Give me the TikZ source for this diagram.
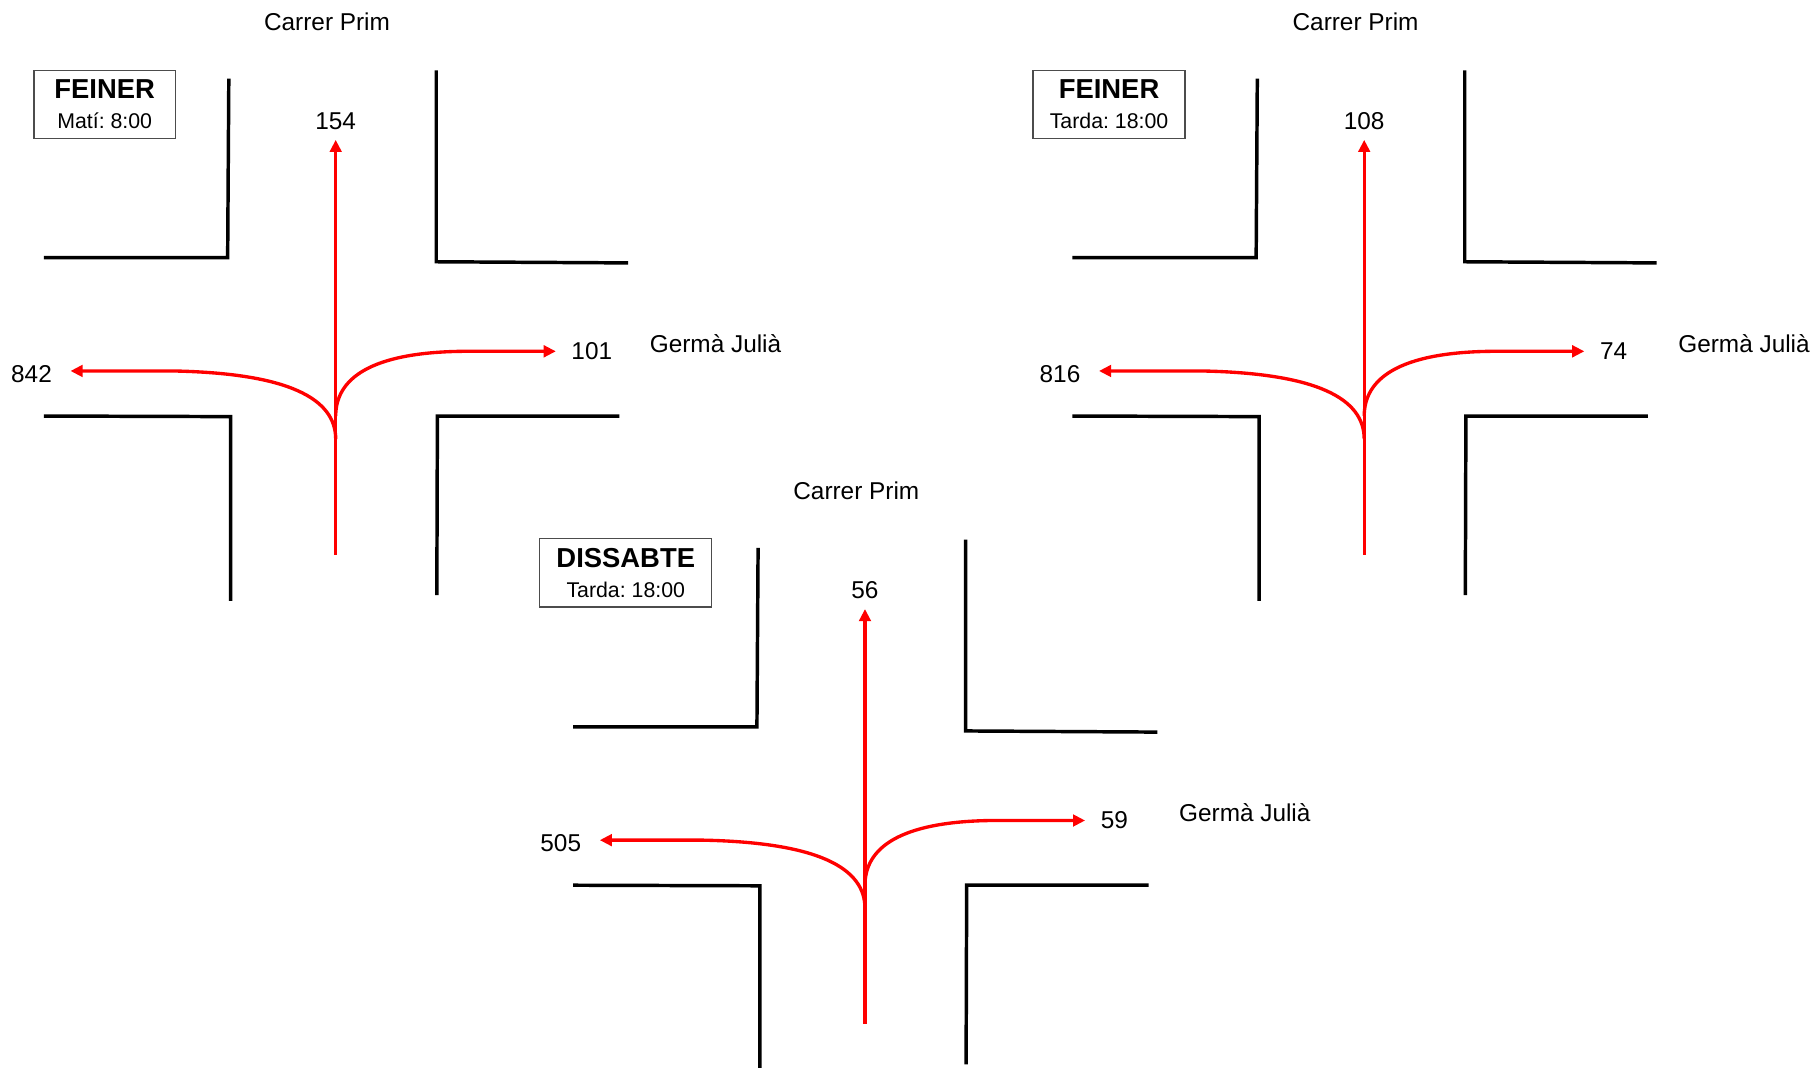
\documentclass[tikz,border=0pt]{standalone}
\usepackage{fontspec}
\setmainfont{Liberation Sans}
\usetikzlibrary{arrows.meta}
\frenchspacing

% one crossing: #1 shift, #2 name prefix, #3 straight on, #4 to the left, #5 to the right
\newcommand{\cruilla}[5]{%
\begin{scope}[shift={#1}, name prefix=#2-]
\draw [vorera] (38,223) -- (197,223) -- (198,68);
\draw [vorera] (377.5,61) -- (377.5,226.5) -- (543.5,227.5);
\draw [vorera] (38,360) -- (199.5,360.5) -- (199.5,520);
\draw [vorera] (536,360) -- (378.5,360) -- (378,515);
\node [carrer, anchor=base] (prim) at (283,26) {Carrer Prim};
\node [carrer, anchor=base west] (julia) at (562,305) {Germà Julià};
\coordinate (entrada) at (290.5,480);
\coordinate (gir esq) at (290.5,380);
\coordinate (gir dre) at (290.5,360);
\node [xifra, anchor=south, inner ysep=5pt] (recte) at (290.5,121) {#3};
\node [xifra, anchor=east, inner xsep=9pt, text height=11pt] (esq) at (61,321) {#4};
\node [xifra, anchor=west, inner xsep=7.5pt] (dre) at (481,304) {#5};
\draw [flux] (entrada) -- (recte.south);
\draw [flux] (gir esq) .. controls (290.5,345) and (250,323) .. (150,321) -- (esq.east);
\draw [flux] (gir dre) .. controls (290.5,328) and (320,305) .. (400,304) -- (dre.west);
\end{scope}}

\begin{document}
\begin{tikzpicture}[x=0.02cm, y=-0.02cm,
  vorera/.style={line width=0.06cm},
  flux/.style={red, line width=0.058cm, -{Triangle[length=0.21cm,width=0.2cm]}},
  xifra/.style={font=\fontsize{12}{14}\selectfont},
  carrer/.style={font=\fontsize{12}{14}\selectfont, inner sep=0pt},
  rotul/.style={draw=black!70, line width=0.6pt, align=center, inner xsep=0.29cm,
    minimum height=1.18cm, font=\fontsize{10.5}{15}\selectfont}]
\useasboundingbox (0,0) rectangle (1568,924);
\cruilla{(0,0)}{mati}{154}{842}{101}
\cruilla{(890,0)}{tarda}{108}{816}{74}
\cruilla{(458,406)}{dissabte}{56}{505}{59}
% schedule boxes
\node [rotul, minimum width=2.45cm] (feiner mati) at (90.6,90.2)
  {{\fontsize{13.5}{15}\selectfont\bfseries FEINER}\\Matí: 8:00};
\node [rotul] (feiner tarda) at (959.7,90.2)
  {{\fontsize{13.5}{15}\selectfont\bfseries FEINER}\\Tarda: 18:00};
\node [rotul] (dissabte tarda) at (541.5,495.7)
  {{\fontsize{13.5}{15}\selectfont\bfseries DISSABTE}\\Tarda: 18:00};
\end{tikzpicture}
\end{document}
